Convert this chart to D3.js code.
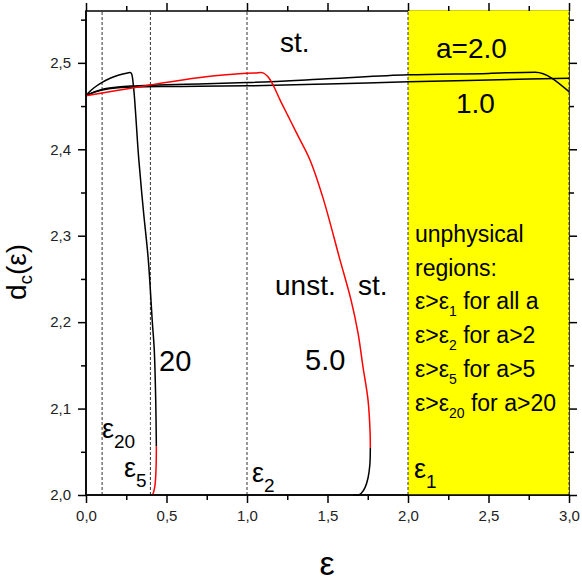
<!DOCTYPE html>
<html><head><meta charset="utf-8">
<script src="https://cdn.jsdelivr.net/npm/d3@7/dist/d3.min.js"></script>
<style>
html,body{margin:0;padding:0;background:#fff;}
text{font-family:Arial,"Liberation Sans",sans-serif;}
</style></head>
<body><svg id="chart" width="582" height="587"></svg>
<script>
// ---- data ----
const xTickValues = [0, 0.5, 1.0, 1.5, 2.0, 2.5, 3.0];
const yTickValues = [2.0, 2.1, 2.2, 2.3, 2.4, 2.5];
const xMinorTicks = [0.25, 0.75, 1.25, 1.75, 2.25, 2.75];
const yMinorTicks = [2.05, 2.15, 2.25, 2.35, 2.45, 2.55];
const dashedEps = [0.1, 0.4, 1.0, 2.0, 3.0];
const unphysicalRange = [2.0, 3.0];

const curveA1 = [[0,2.462],[0.05,2.4658],[0.1,2.4685],[0.2,2.4712],[0.3,2.4721],[0.5,2.4726],[0.7,2.4728],[1.0,2.4734],[1.5,2.4755],[2.0,2.4782],[2.5,2.4802],[3.0,2.4822]];
const curveA2 = [[0,2.462],[0.05,2.4662],[0.1,2.4692],[0.2,2.4720],[0.3,2.4733],[0.5,2.4746],[0.7,2.4755],[1.0,2.4772],[1.5,2.4815],[2.0,2.4861],[2.5,2.4878],[2.79,2.4892],[3.0,2.4667]];
const curveA5Red = [[0,2.462],[0.2,2.4683],[0.4,2.4745],[0.6,2.4803],[0.8,2.4850],[0.95,2.4873],[1.05,2.4882],[1.1,2.4884],[1.1304,2.4838],[1.1615,2.4745],[1.205,2.4572],[1.2547,2.4387],[1.3106,2.4178],[1.3913,2.3877],[1.472,2.3438],[1.5776,2.272],[1.646,2.2257],[1.6894,2.1875],[1.7205,2.1481],[1.7516,2.110],[1.764,2.0752],[1.766,2.0544]];
const curveA5Black = [[1.766,2.0544],[1.763,2.035],[1.752,2.02],[1.733,2.0085],[1.71,2.002],[1.69,2.0],[1.66,2.0]];
const curveA20Black = [[0,2.462],[0.025,2.4672],[0.05,2.4712],[0.1,2.4775],[0.15,2.4822],[0.2,2.4856],[0.25,2.4880],[0.273,2.4888],[0.282,2.4878],[0.294,2.4745],[0.328,2.388],[0.356,2.330],[0.387,2.272],[0.412,2.2],[0.424,2.168],[0.433,2.11],[0.437,2.056]];
const curveA20Red = [[0.437,2.056],[0.435,2.03],[0.429,2.012],[0.421,2.004],[0.414,2.0]];

// ---- layout ----
const W = 582, H = 587;
const m = {left: 86, right: 13, top: 11, bottom: 92};
const svg = d3.select("#chart");
const x = d3.scaleLinear().domain([0, 3]).range([m.left, W - m.right]);
const y = d3.scaleLinear().domain([2.0, 2.56]).range([H - m.bottom, m.top]);
const fmt = v => d3.format(".1f")(v).replace(".", ",");

// frame
svg.append("rect").attr("x", x(0)).attr("y", y(2.56)).attr("width", x(3) - x(0)).attr("height", y(2.0) - y(2.56))
  .attr("fill", "none").attr("stroke", "#000").attr("stroke-width", 1.5);

// yellow unphysical region
svg.append("rect").attr("x", x(unphysicalRange[0])).attr("y", y(2.56) - 0.75)
  .attr("width", x(unphysicalRange[1]) - x(unphysicalRange[0])).attr("height", y(2.0) - y(2.56) + 0.75)
  .attr("fill", "#ffff00");

// dashed verticals
svg.selectAll("line.dash").data(dashedEps).enter().append("line")
  .attr("x1", d => x(d)).attr("x2", d => x(d)).attr("y1", y(2.0)).attr("y2", y(2.56))
  .attr("stroke", "#333").attr("stroke-width", 1).attr("stroke-dasharray", "3,2");

// curves
const lineSmooth = d3.line().x(d => x(d[0])).y(d => y(d[1])).curve(d3.curveCatmullRom.alpha(0.5));
const lineMono = d3.line().x(d => x(d[0])).y(d => y(d[1])).curve(d3.curveMonotoneX);
const series = [
  {data: curveA1, color: "#000", gen: lineMono},
  {data: curveA2, color: "#000", gen: lineMono},
  {data: curveA20Black, color: "#000", gen: lineSmooth},
  {data: curveA20Red, color: "#ff0000", gen: lineSmooth},
  {data: curveA5Black, color: "#000", gen: lineSmooth},
  {data: curveA5Red, color: "#ff0000", gen: lineSmooth}
];
svg.selectAll("path.curve").data(series).enter().append("path")
  .attr("d", d => d.gen(d.data)).attr("fill", "none")
  .attr("stroke", d => d.color).attr("stroke-width", 1.5).attr("stroke-linejoin", "round");

// axes
function styleAxis(g) {
  g.select(".domain").remove();
  g.selectAll(".tick line").attr("stroke", "#000").attr("stroke-width", 1.5);
  g.selectAll(".tick text").attr("fill", "#222").style("font-size", "15px")
    .style("font-family", "Arial, 'Liberation Sans', sans-serif");
}
svg.append("g").attr("transform", `translate(0,${y(2.0)})`)
  .call(d3.axisBottom(x).tickValues(xTickValues).tickFormat(fmt).tickSize(8).tickPadding(7)).call(styleAxis);
svg.append("g").attr("transform", `translate(0,${y(2.0)})`)
  .call(d3.axisBottom(x).tickValues(xMinorTicks).tickFormat("").tickSize(5)).call(styleAxis);
svg.append("g").attr("transform", `translate(0,${y(2.56)})`)
  .call(d3.axisTop(x).tickValues(xTickValues).tickFormat("").tickSize(8)).call(styleAxis);
svg.append("g").attr("transform", `translate(0,${y(2.56)})`)
  .call(d3.axisTop(x).tickValues(xMinorTicks).tickFormat("").tickSize(5)).call(styleAxis);
svg.append("g").attr("transform", `translate(${x(0)},0)`)
  .call(d3.axisLeft(y).tickValues(yTickValues).tickFormat(fmt).tickSize(8).tickPadding(7)).call(styleAxis);
svg.append("g").attr("transform", `translate(${x(0)},0)`)
  .call(d3.axisLeft(y).tickValues(yMinorTicks).tickFormat("").tickSize(5)).call(styleAxis);
svg.append("g").attr("transform", `translate(${x(3)},0)`)
  .call(d3.axisRight(y).tickValues(yTickValues).tickFormat("").tickSize(8)).call(styleAxis);
svg.append("g").attr("transform", `translate(${x(3)},0)`)
  .call(d3.axisRight(y).tickValues(yMinorTicks).tickFormat("").tickSize(5)).call(styleAxis);

// bottom & left axis lines on top
svg.append("line").attr("x1", x(0) - 0.75).attr("x2", x(3) + 0.75).attr("y1", y(2.0)).attr("y2", y(2.0))
  .attr("stroke", "#000").attr("stroke-width", 1.5);
svg.append("line").attr("x1", x(0)).attr("x2", x(0)).attr("y1", y(2.0)).attr("y2", y(2.56))
  .attr("stroke", "#000").attr("stroke-width", 1.5);

// labels in plot
function txt(xp, yp, s, size) {
  return svg.append("text").attr("x", xp).attr("y", yp).style("font-size", size + "px").attr("fill", "#000").text(s);
}
txt(280, 52, "st.", 28);
txt(436, 58, "a=2.0", 28);
txt(456, 113, "1.0", 28);
txt(275, 295, "unst.", 28);
txt(358, 295, "st.", 28);
txt(305, 370, "5.0", 29);
txt(159, 371, "20", 29);

function epsLabel(xp, yp, sub) {
  const t = svg.append("text").attr("x", xp).attr("y", yp).style("font-size", "27px").attr("fill", "#000");
  t.append("tspan").text("ε");
  t.append("tspan").attr("dy", 10).style("font-size", "19px").text(sub);
}
epsLabel(102, 438, "20");
epsLabel(124, 477, "5");
epsLabel(252, 482, "2");
epsLabel(414, 478, "1");

// text block
const blockLines = [
  [{t: "unphysical"}],
  [{t: "regions:"}],
  [{t: "ε>ε"}, {t: "1", sub: true}, {t: " for all a"}],
  [{t: "ε>ε"}, {t: "2", sub: true}, {t: " for a>2"}],
  [{t: "ε>ε"}, {t: "5", sub: true}, {t: " for a>5"}],
  [{t: "ε>ε"}, {t: "20", sub: true}, {t: " for a>20"}]
];
blockLines.forEach((parts, i) => {
  const t = svg.append("text").attr("x", 415).attr("y", 242 + i * 33.7).style("font-size", "23px").attr("fill", "#000");
  parts.forEach((p, j) => {
    const ts = t.append("tspan").text(p.t);
    if (p.sub) ts.attr("dy", 7).style("font-size", "14px");
    else if (j > 0 && parts[j - 1].sub) ts.attr("dy", -7);
  });
});

// axis titles
svg.append("text").attr("x", 327).attr("y", 575).attr("text-anchor", "middle")
  .style("font-size", "34px").attr("fill", "#000").text("ε");
const yl = svg.append("text").attr("transform", "translate(26,272) rotate(-90)").attr("text-anchor", "middle")
  .style("font-size", "28px").attr("fill", "#000");
yl.append("tspan").text("d");
yl.append("tspan").attr("dy", 6).style("font-size", "19px").text("c");
yl.append("tspan").attr("dy", -6).text("(ε)");
</script></body></html>
